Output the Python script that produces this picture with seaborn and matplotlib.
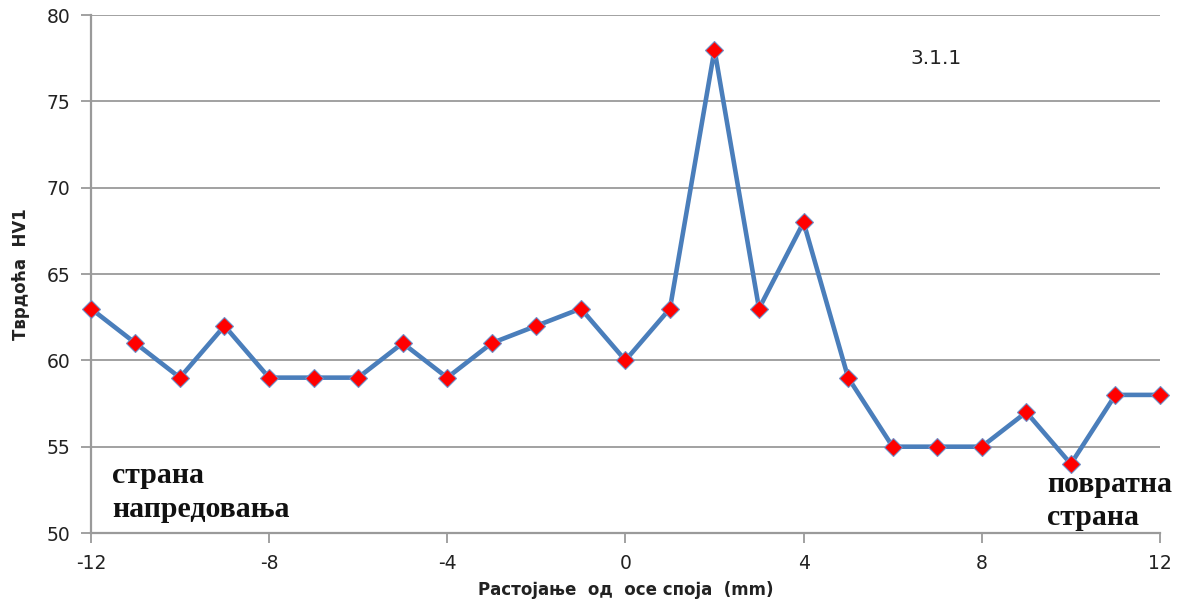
import numpy as np
import pandas as pd
import matplotlib
matplotlib.use('Agg')
import matplotlib.pyplot as plt
import seaborn as sns

# distance from weld axis (mm) and hardness HV1
distance = [-12, -11, -10, -9, -8, -7, -6, -5, -4, -3, -2, -1, 0,
            1, 2, 3, 4, 5, 6, 7, 8, 9, 10, 11, 12]
hardness = [63, 61, 59, 62, 59, 59, 59, 61, 59, 61, 62, 63, 60,
            63, 78, 63, 68, 59, 55, 55, 55, 57, 54, 58, 58]
x_ticks = [-12, -8, -4, 0, 4, 8, 12]
y_ticks = [50, 55, 60, 65, 70, 75, 80]

df = pd.DataFrame({'dist': distance, 'hv': hardness})

sns.set_style('white')
plt.rcParams['font.family'] = ['DejaVu Sans']
plt.rcParams['axes.unicode_minus'] = False
plt.rcParams['xtick.bottom'] = True
plt.rcParams['ytick.left'] = True

fig = plt.figure(figsize=(11.8, 6.05), dpi=100)
ax = fig.add_axes([0.077, 0.119, 0.906, 0.856])

sns.lineplot(data=df, x='dist', y='hv', ax=ax, color='#4a7ebb', linewidth=3.3,
             marker='D', markersize=9.5, markerfacecolor='red',
             markeredgecolor='#6f8fc8', markeredgewidth=0.8, zorder=3,
             clip_on=False)

ax.set_xlim(-12, 12)
ax.set_ylim(50, 80)
ax.set_xticks(x_ticks)
ax.set_yticks(y_ticks)
ax.yaxis.grid(True, color='#9a9a9a', linewidth=1.3)
ax.xaxis.grid(False)
for s in ['top', 'right']:
    ax.spines[s].set_visible(False)
for s in ['left', 'bottom']:
    ax.spines[s].set_color('#9a9a9a')
    ax.spines[s].set_linewidth(1.6)
ax.tick_params(axis='both', direction='out', length=7, width=1.3, color='#9a9a9a',
               labelsize=13.5, labelcolor='#222222')
ax.tick_params(axis='x', pad=8)
ax.tick_params(axis='y', pad=8)

ax.set_xlabel('Растојање  од  осе споја  (mm)', fontsize=12, fontweight='bold',
              color='#222222', labelpad=6)
ax.set_ylabel('Тврдоћа  HV1', fontsize=12, fontweight='bold', color='#222222',
              labelpad=12)

ax.text(6.4, 77.16, '3.1.1', fontsize=14.5, color='#222222')
ax.text(-11.53, 50.95, 'страна\nнапредовања', fontsize=21.5, fontweight='bold',
        family='Liberation Serif', linespacing=1.3, color='#111111')
ax.text(9.46, 50.46, 'повратна\nстрана', fontsize=21.5, fontweight='bold',
        family='Liberation Serif', linespacing=1.3, color='#111111',
        clip_on=False)

fig.savefig('out.png', dpi=100)
